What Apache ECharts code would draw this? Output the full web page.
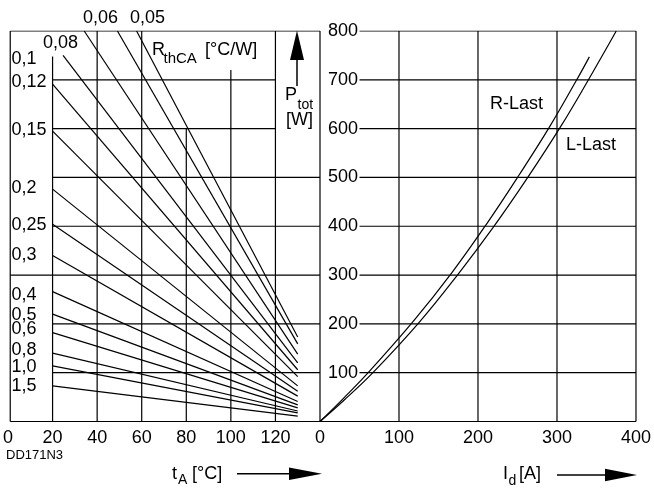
<!DOCTYPE html>
<html><head><meta charset="utf-8">
<script src="https://cdn.jsdelivr.net/npm/echarts@6/dist/echarts.min.js"></script>
<style>html,body{margin:0;padding:0;background:#fff}#c{width:654px;height:491px}</style>
</head><body><div id="c"></div>
<script>
// ---------- DATA ----------
// Left diagram: P_tot vs ambient temperature t_A for several R_thCA
const rthLabels = ['0,05','0,06','0,08','0,1','0,12','0,15','0,2','0,25','0,3','0,4','0,5','0,6','0,8','1,0','1,5'];
const rthStartT = [57.7, 49.1, 34.2, 24.7, 20, 20, 20, 20, 20, 20, 20, 20, 20, 20, 20];
const rthStartP = [800, 800, 800, 750, 691, 595, 476, 404, 340, 266, 220, 182, 140, 114, 73];
const rthEndT = 130;
const rthEndP = [173, 159, 138, 120, 106, 92, 73, 62, 52, 41, 34, 28, 21.5, 17.5, 11];
// Right diagram: P_tot vs I_d
const rLastI = [0, 30, 61, 118, 167, 211, 252, 290, 325, 341];
const rLastP = [0, 48, 100, 205, 305, 405, 505, 602, 700, 747];
const lLastI = [0, 30, 67, 125, 174, 219, 263, 305, 338, 375];
const lLastP = [0, 43, 100, 202, 300, 397, 500, 605, 695, 800];
// Axis ticks
const tATicks = [0, 20, 40, 60, 80, 100, 120];
const idTicks = [0, 100, 200, 300, 400];
const pTicks = [100, 200, 300, 400, 500, 600, 700, 800];

// ---------- LAYOUT ----------
const FONT = "'Liberation Sans', Arial, sans-serif";
const TMAX = 140, IMAX = 400, PMAX = 800;
// left-diagram grid segments (gaps as in the original)
const leftVTop = {20: 748, 40: 800, 60: 800, 80: 600, 100: 720, 120: 800};
const leftHRange = {100: [20, 140], 200: [20, 140], 300: [1, 140], 400: [20, 140], 500: [20, 140], 600: [20, 120], 700: [20, 120]};
const rightHStart = 50;
const labelPos = [[130, 18.5], [83, 18.5], [43, 43.5], [11.5, 59.5], [11.5, 81.7], [11.5, 130], [11.5, 188.5], [11.5, 225], [11.5, 255], [11.5, 295], [11.5, 315], [11.5, 329.5], [11.5, 350], [11.5, 367], [11.5, 386.5]];

const LW = 1.2;
const series = [];
function seg(g, a, b) {
  series.push({type: 'line', xAxisIndex: g, yAxisIndex: g, data: [a, b], symbol: 'none', silent: true,
    lineStyle: {color: '#000', width: LW}, z: 1});
}
// left grid
tATicks.filter(t => t > 0).forEach(t => seg(0, [t, 0], [t, leftVTop[t]]));
pTicks.filter(p => p < PMAX).forEach(p => seg(0, [leftHRange[p][0], p], [leftHRange[p][1], p]));
seg(0, [1, 0], [1, PMAX]);
seg(0, [1, PMAX], [TMAX, PMAX]);
seg(0, [1, 0], [TMAX, 0]);
// right grid
idTicks.filter(i => i > 0).forEach(i => seg(1, [i, 0], [i, PMAX]));
pTicks.forEach(p => seg(1, [rightHStart, p], [IMAX, p]));
seg(1, [0, 0], [0, PMAX]);
seg(1, [0, 0], [IMAX, 0]);

// R_thCA lines
rthLabels.forEach((lab, i) => {
  series.push({type: 'line', name: lab, xAxisIndex: 0, yAxisIndex: 0, symbol: 'none', silent: true,
    data: [[rthStartT[i], rthStartP[i]], [rthEndT, rthEndP[i]]],
    lineStyle: {color: '#000', width: LW}, z: 3});
});
// load curves
[[rLastI, rLastP, 'R-Last'], [lLastI, lLastP, 'L-Last']].forEach(([xs, ys, nm]) => {
  series.push({type: 'line', name: nm, xAxisIndex: 1, yAxisIndex: 1, symbol: 'none', silent: true,
    smooth: 0.4,
    data: xs.map((x, k) => [x, ys[k]]), lineStyle: {color: '#000', width: LW}, z: 3});
});

function txt(text, x, y, size, align) {
  return {type: 'text', x: x, y: y, silent: true, z: 10,
    style: {text: text, fontSize: size, fontFamily: FONT, fill: '#000', align: align || 'left', verticalAlign: 'middle'}};
}
const graphics = [];
rthLabels.forEach((lab, i) => graphics.push(txt(lab, labelPos[i][0], labelPos[i][1], 18)));
graphics.push(txt('R', 152, 50.5, 18), txt('thCA', 163.5, 58.5, 15), txt('[°C/W]', 205, 50.5, 18));
graphics.push(txt('P', 285, 95, 18), txt('tot', 297.5, 105, 14), txt('[W]', 286, 120.5, 18));
graphics.push({type: 'polygon', shape: {points: [[297, 30.5], [290, 60], [304, 60]]}, style: {fill: '#000'}, silent: true});
graphics.push({type: 'line', shape: {x1: 297, y1: 58, x2: 297, y2: 86}, style: {stroke: '#000', lineWidth: 1.5}, silent: true});
graphics.push(txt('R-Last', 490, 104.5, 18), txt('L-Last', 566, 145, 18));
graphics.push(txt('DD171N3', 6, 455, 13));
graphics.push(txt('t', 172, 474, 18), txt('A', 178, 480.5, 14), txt('[°C]', 192, 474, 18));
graphics.push({type: 'line', shape: {x1: 237, y1: 473.8, x2: 292, y2: 473.8}, style: {stroke: '#000', lineWidth: 1.5}, silent: true});
graphics.push({type: 'polygon', shape: {points: [[322, 473.8], [289, 467.5], [289, 480.1]]}, style: {fill: '#000'}, silent: true});
graphics.push(txt('I', 503, 474.5, 18), txt('d', 508.5, 481.5, 14), txt('[A]', 519, 474.5, 18));
graphics.push({type: 'line', shape: {x1: 557, y1: 475, x2: 607, y2: 475}, style: {stroke: '#000', lineWidth: 1.5}, silent: true});
graphics.push({type: 'polygon', shape: {points: [[637, 475], [605, 468.7], [605, 481.3]]}, style: {fill: '#000'}, silent: true});

const axLabel = {color: '#000', fontSize: 18, fontFamily: FONT};
const chart = echarts.init(document.getElementById('c'), null, {renderer: 'canvas'});
chart.setOption({
  animation: false,
  backgroundColor: '#fff',
  grid: [
    {left: 5, top: 31, width: 315, height: 390.5},
    {left: 320, top: 31, width: 319, height: 390.5}
  ],
  xAxis: [
    {type: 'value', gridIndex: 0, min: 0, max: TMAX, interval: 20, axisLine: {show: false}, axisTick: {show: false},
      splitLine: {show: false}, axisLabel: Object.assign({margin: 8, showMaxLabel: false}, axLabel)},
    {type: 'value', gridIndex: 1, min: 0, max: IMAX, interval: 100, axisLine: {show: false}, axisTick: {show: false},
      splitLine: {show: false}, axisLabel: Object.assign({margin: 8}, axLabel)}
  ],
  yAxis: [
    {type: 'value', gridIndex: 0, min: 0, max: PMAX, interval: 100, axisLine: {show: false}, axisTick: {show: false},
      splitLine: {show: false}, axisLabel: {show: false}},
    {type: 'value', gridIndex: 1, min: 0, max: PMAX, interval: 100, axisLine: {show: false}, axisTick: {show: false},
      splitLine: {show: false}, axisLabel: Object.assign({inside: true, margin: 8, showMinLabel: false}, axLabel)}
  ],
  series: series,
  graphic: graphics
});
</script></body></html>
